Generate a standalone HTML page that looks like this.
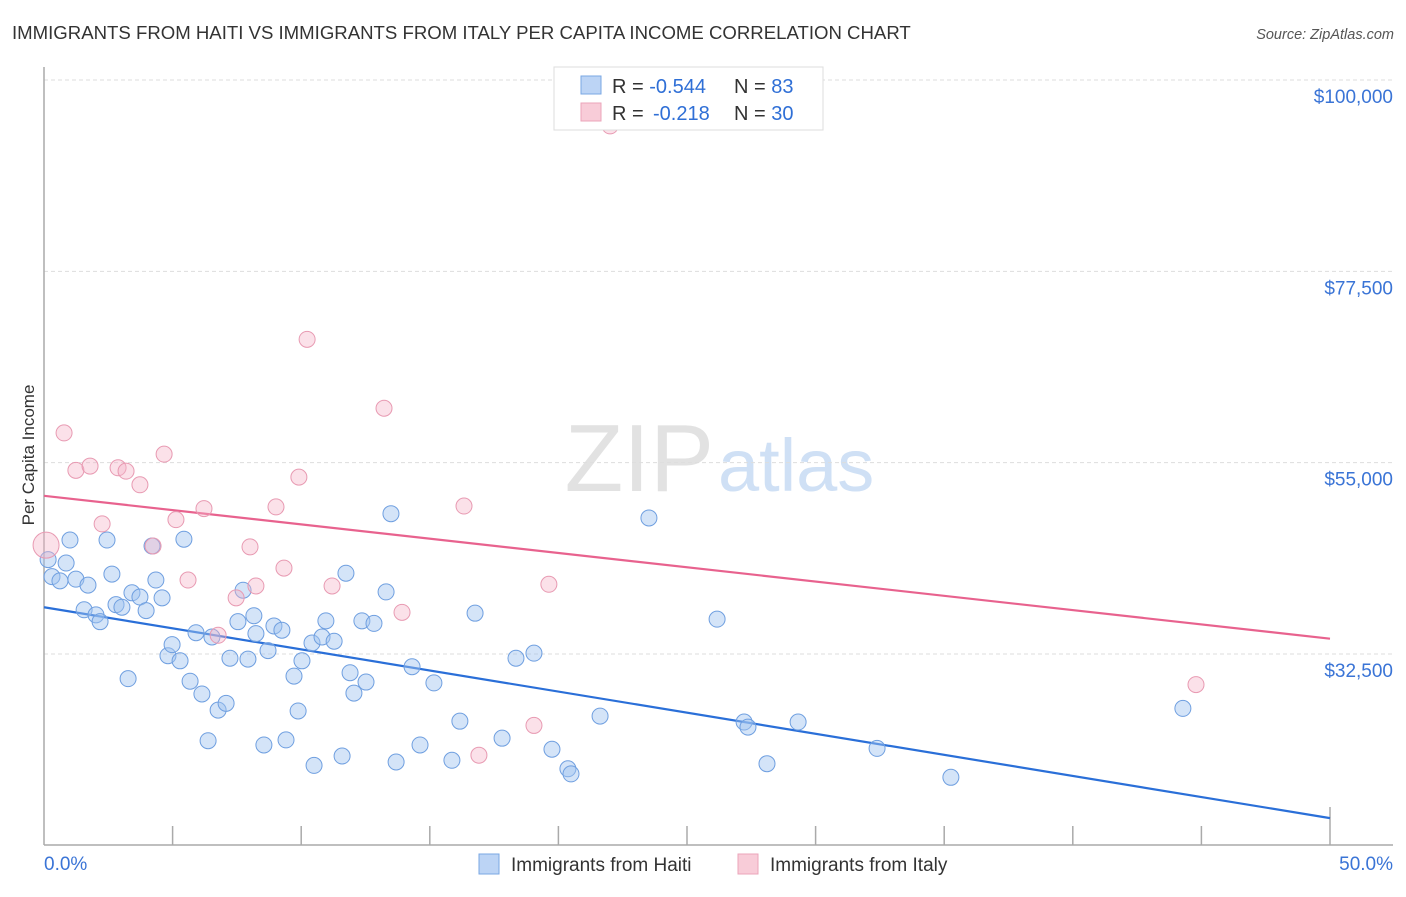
<!DOCTYPE html>
<html><head><meta charset="utf-8"><style>
body{margin:0;background:#fff;font-family:"Liberation Sans",sans-serif;}
svg text{font-family:"Liberation Sans",sans-serif;}
</style></head><body>
<svg id="chart" width="1406" height="892">
<text x="12" y="39" font-size="18.6" fill="#333">IMMIGRANTS FROM HAITI VS IMMIGRANTS FROM ITALY PER CAPITA INCOME CORRELATION CHART</text>
<text x="1394" y="39" font-size="14.5" fill="#555" text-anchor="end" font-style="italic">Source: ZipAtlas.com</text>
<text x="714" y="491" font-size="96" fill="#e2e2e2" text-anchor="end" font-family="Liberation Serif">ZIP</text>
<text x="718" y="491" font-size="74" fill="#cfe0f5">atlas</text>
<text transform="translate(34,455) rotate(-90)" font-size="17" fill="#333" text-anchor="middle">Per Capita Income</text>
<g id="grid"></g><g id="axes"></g><g id="lines"></g><g id="pts"></g>
<g>
<rect x="554" y="67" width="269" height="63" fill="#fff" stroke="#ddd"/>
<rect x="581" y="76" width="20" height="18" fill="#bcd4f5" stroke="#7aa7e3"/>
<rect x="581" y="103" width="20" height="18" fill="#f8ccd8" stroke="#eba4ba"/>
<text x="612" y="93" font-size="20" fill="#333">R = <tspan fill="#2f6fd6">-0.544</tspan><tspan x="734">N = </tspan><tspan fill="#2f6fd6">83</tspan></text>
<text x="612" y="120" font-size="20" fill="#333">R = <tspan fill="#2f6fd6" x="653">-0.218</tspan><tspan x="734">N = </tspan><tspan fill="#2f6fd6">30</tspan></text>
</g>
<g>
<rect x="479" y="854" width="20" height="20" fill="#bcd4f5" stroke="#7aa7e3"/>
<text x="511" y="871" font-size="19" fill="#333">Immigrants from Haiti</text>
<rect x="738" y="854" width="20" height="20" fill="#f8ccd8" stroke="#eba4ba"/>
<text x="770" y="871" font-size="19" fill="#333">Immigrants from Italy</text>
</g>
</svg>
<script>
const yTicks=[32500,55000,77500,100000];
const yTickLabels=["$32,500","$55,000","$77,500","$100,000"];
const xTickLabels=["0.0%","50.0%"];
const haitiX=[0.16,0.31,0.62,0.86,1.01,1.24,1.56,1.71,2.02,2.18,2.45,2.64,2.80,3.03,3.27,3.42,3.73,3.97,4.20,4.35,4.59,4.82,4.98,5.29,5.44,5.68,5.91,6.14,6.38,6.53,6.77,7.08,7.23,7.54,7.74,7.93,8.16,8.24,8.55,8.71,8.94,9.25,9.41,9.72,9.88,10.03,10.50,10.42,10.81,10.96,11.28,11.59,11.74,11.90,12.05,12.36,12.52,12.83,13.30,13.49,13.69,14.31,14.62,15.16,15.86,16.17,16.76,17.81,18.35,19.05,19.75,20.37,20.49,21.62,23.52,26.17,27.22,27.37,28.11,29.32,32.39,35.26,44.28];
const haitiY=[43600,41600,41100,43200,45900,41300,37700,40600,37100,36300,45900,41900,38300,38000,29600,39700,39200,37600,45200,41200,39100,32300,33600,31700,46000,29300,35000,27800,22300,34500,25900,26700,32000,36300,40000,31900,37000,34900,21800,32900,35800,35300,22400,29900,25800,31700,19400,33800,34500,36400,34000,20500,42000,30300,27900,36400,29200,36100,39800,49000,19800,31000,21800,29100,20000,24600,37300,22600,32000,32600,21300,19000,18400,25200,48500,36600,24500,23900,19600,24500,21400,18000,26100];
const italyX=[0.08,0.78,1.24,1.79,2.26,2.88,3.19,3.73,4.24,4.67,5.13,5.60,6.22,6.77,7.47,8.01,8.24,9.02,9.33,9.91,10.23,11.20,13.22,13.92,16.33,16.91,19.05,19.63,22.01,44.79];
const italyY=[45300,58500,54100,54600,47800,54400,54000,52400,45200,56000,48300,41200,49600,34700,39100,45100,40500,49800,42600,53300,69500,40500,61400,37400,49900,20600,24100,40700,94600,28900];
const haitiTrend=[38000,13200];
const italyTrend=[51100,34300];
const NS="http://www.w3.org/2000/svg";
const X0=44,X1=1330,Y32=654,Y100=80;
const sx=v=>X0+(v/50)*(X1-X0);
const sy=v=>Y32-(v-32500)*(Y32-Y100)/67500;
function mk(t,a,p){const e=document.createElementNS(NS,t);for(const k in a)e.setAttribute(k,a[k]);p.appendChild(e);return e;}
const grid=document.getElementById('grid'),axes=document.getElementById('axes'),lines=document.getElementById('lines'),pts=document.getElementById('pts');
yTicks.forEach((v,i)=>{
 const l=mk('line',{x1:X0,x2:1393,y1:sy(v),y2:sy(v),stroke:'#ddd','stroke-dasharray':'4,3'},grid);
 
 
 const t=mk('text',{x:1393,y:sy(v)+23,'font-size':19,fill:'#3a74d6','text-anchor':'end'},grid);
 t.textContent=yTickLabels[i];
 
 
});
const ya=mk('line',{x1:X0,x2:X0,y1:67,y2:845,stroke:'#aaa','stroke-width':1.5},axes);


const xa=mk('line',{x1:X0,x2:1393,y1:845,y2:845,stroke:'#aaa','stroke-width':1.5},axes);


for(let i=1;i<=10;i++){
 const tk=mk('line',{x1:sx(i*5),x2:sx(i*5),y1:i==10?807:826,y2:845,stroke:'#aaa','stroke-width':1.5},axes);
 
 
}
[[0,'start',44],[50,'end',1393]].forEach((d,i)=>{
 const t=mk('text',{x:d[2],y:870,'font-size':19,fill:'#3a74d6','text-anchor':d[1]},axes);
 t.textContent=xTickLabels[i];
 
 
});
haitiX.forEach((x,i)=>{
 const c=mk('circle',{cx:sx(x),cy:sy(haitiY[i]),r:8,fill:'rgba(160,196,240,0.45)',stroke:'#6f9fe0','stroke-width':1},pts);
 
 
});
italyX.forEach((x,i)=>{
 const c=mk('circle',{cx:sx(x),cy:sy(italyY[i]),r:i==0?13:8,fill:'rgba(245,180,200,0.4)',stroke:'#e89ab2','stroke-width':1},pts);
 
 
});
const hl=mk('line',{x1:sx(0),y1:sy(haitiTrend[0]),x2:sx(50),y2:sy(haitiTrend[1]),stroke:'#2a6fd8','stroke-width':2.2},lines);


const il=mk('line',{x1:sx(0),y1:sy(italyTrend[0]),x2:sx(50),y2:sy(italyTrend[1]),stroke:'#e8628e','stroke-width':2.2},lines);


</script>
</body></html>
